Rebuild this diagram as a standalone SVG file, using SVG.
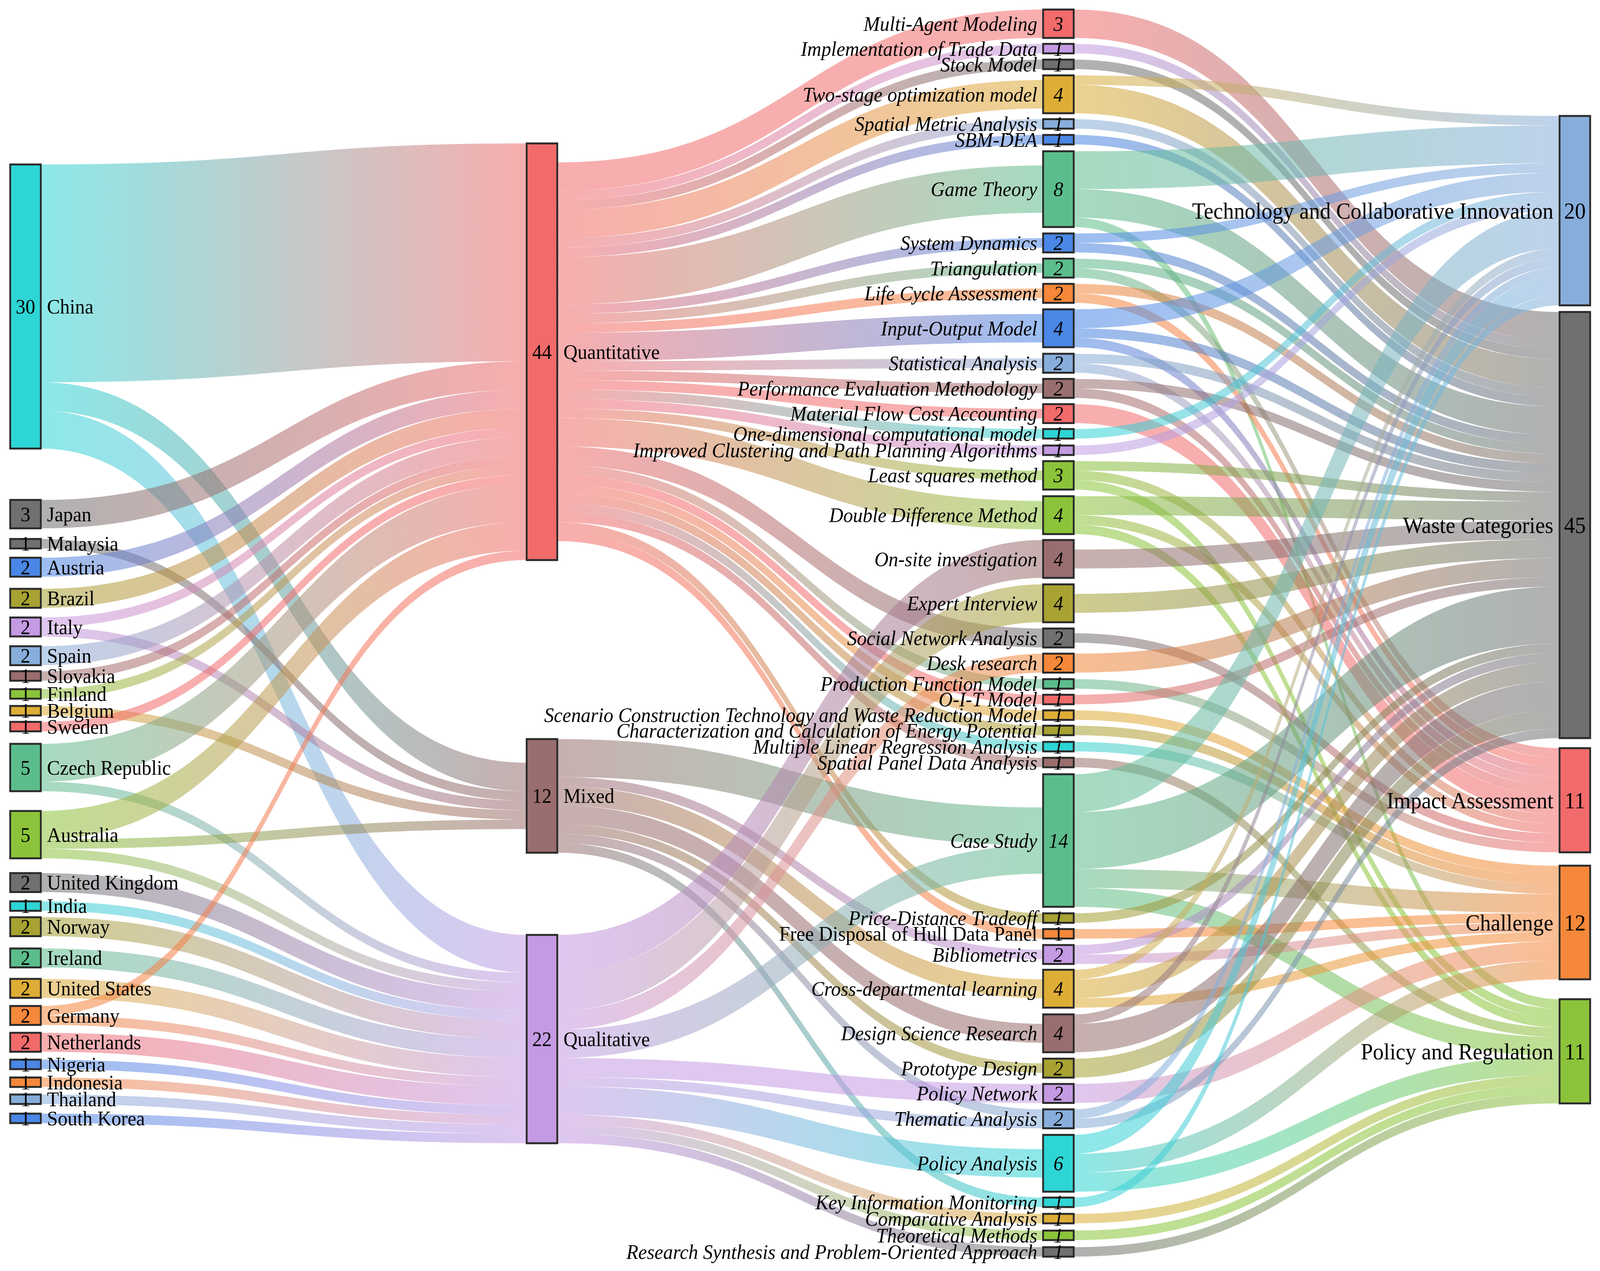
<svg xmlns="http://www.w3.org/2000/svg" width="4393" height="3255" viewBox="0 0 4393 3255" preserveAspectRatio="none" style="width:100vw;height:100vh;display:block">
<defs>
<style>
.lk{fill-opacity:.55}
.n{stroke:#2b2b2b;stroke-width:5}
text{font-family:"Liberation Serif","Times New Roman",serif;font-size:53.5px;fill:#000;dominant-baseline:central}
.i{font-style:italic}
.e{text-anchor:end}
.m{text-anchor:middle}
.b{font-size:59.5px}
.cR{fill:#f26b6b}.cPU{fill:#c49ae3}.cGR{fill:#707070}.cGO{fill:#ddad36}.cLB{fill:#87aedb}.cBL{fill:#4a87e6}
.cGN{fill:#5cbd8c}.cOR{fill:#f5883a}.cMV{fill:#9a6e6e}.cCY{fill:#2ed5d5}.cOL{fill:#a7a232}.cYG{fill:#8bc43a}
</style>
<linearGradient id="CY-R"><stop offset="0" stop-color="#2ed5d5"/><stop offset="1" stop-color="#f26b6b"/></linearGradient>
<linearGradient id="CY-MV"><stop offset="0" stop-color="#2ed5d5"/><stop offset="1" stop-color="#9a6e6e"/></linearGradient>
<linearGradient id="CY-PU"><stop offset="0" stop-color="#2ed5d5"/><stop offset="1" stop-color="#c49ae3"/></linearGradient>
<linearGradient id="GR-R"><stop offset="0" stop-color="#707070"/><stop offset="1" stop-color="#f26b6b"/></linearGradient>
<linearGradient id="GR-MV"><stop offset="0" stop-color="#707070"/><stop offset="1" stop-color="#9a6e6e"/></linearGradient>
<linearGradient id="BL-R"><stop offset="0" stop-color="#4a87e6"/><stop offset="1" stop-color="#f26b6b"/></linearGradient>
<linearGradient id="OL-R"><stop offset="0" stop-color="#a7a232"/><stop offset="1" stop-color="#f26b6b"/></linearGradient>
<linearGradient id="PU-R"><stop offset="0" stop-color="#c49ae3"/><stop offset="1" stop-color="#f26b6b"/></linearGradient>
<linearGradient id="PU-MV"><stop offset="0" stop-color="#c49ae3"/><stop offset="1" stop-color="#9a6e6e"/></linearGradient>
<linearGradient id="LB-R"><stop offset="0" stop-color="#87aedb"/><stop offset="1" stop-color="#f26b6b"/></linearGradient>
<linearGradient id="MV-R"><stop offset="0" stop-color="#9a6e6e"/><stop offset="1" stop-color="#f26b6b"/></linearGradient>
<linearGradient id="YG-R"><stop offset="0" stop-color="#8bc43a"/><stop offset="1" stop-color="#f26b6b"/></linearGradient>
<linearGradient id="GO-MV"><stop offset="0" stop-color="#ddad36"/><stop offset="1" stop-color="#9a6e6e"/></linearGradient>
<linearGradient id="GN-R"><stop offset="0" stop-color="#5cbd8c"/><stop offset="1" stop-color="#f26b6b"/></linearGradient>
<linearGradient id="GN-PU"><stop offset="0" stop-color="#5cbd8c"/><stop offset="1" stop-color="#c49ae3"/></linearGradient>
<linearGradient id="YG-MV"><stop offset="0" stop-color="#8bc43a"/><stop offset="1" stop-color="#9a6e6e"/></linearGradient>
<linearGradient id="YG-PU"><stop offset="0" stop-color="#8bc43a"/><stop offset="1" stop-color="#c49ae3"/></linearGradient>
<linearGradient id="GR-PU"><stop offset="0" stop-color="#707070"/><stop offset="1" stop-color="#c49ae3"/></linearGradient>
<linearGradient id="OL-PU"><stop offset="0" stop-color="#a7a232"/><stop offset="1" stop-color="#c49ae3"/></linearGradient>
<linearGradient id="GO-PU"><stop offset="0" stop-color="#ddad36"/><stop offset="1" stop-color="#c49ae3"/></linearGradient>
<linearGradient id="OR-R"><stop offset="0" stop-color="#f5883a"/><stop offset="1" stop-color="#f26b6b"/></linearGradient>
<linearGradient id="OR-PU"><stop offset="0" stop-color="#f5883a"/><stop offset="1" stop-color="#c49ae3"/></linearGradient>
<linearGradient id="R-PU"><stop offset="0" stop-color="#f26b6b"/><stop offset="1" stop-color="#c49ae3"/></linearGradient>
<linearGradient id="BL-PU"><stop offset="0" stop-color="#4a87e6"/><stop offset="1" stop-color="#c49ae3"/></linearGradient>
<linearGradient id="LB-PU"><stop offset="0" stop-color="#87aedb"/><stop offset="1" stop-color="#c49ae3"/></linearGradient>
<linearGradient id="R-GR"><stop offset="0" stop-color="#f26b6b"/><stop offset="1" stop-color="#707070"/></linearGradient>
<linearGradient id="R-GO"><stop offset="0" stop-color="#f26b6b"/><stop offset="1" stop-color="#ddad36"/></linearGradient>
<linearGradient id="R-LB"><stop offset="0" stop-color="#f26b6b"/><stop offset="1" stop-color="#87aedb"/></linearGradient>
<linearGradient id="R-BL"><stop offset="0" stop-color="#f26b6b"/><stop offset="1" stop-color="#4a87e6"/></linearGradient>
<linearGradient id="R-GN"><stop offset="0" stop-color="#f26b6b"/><stop offset="1" stop-color="#5cbd8c"/></linearGradient>
<linearGradient id="R-OR"><stop offset="0" stop-color="#f26b6b"/><stop offset="1" stop-color="#f5883a"/></linearGradient>
<linearGradient id="R-MV"><stop offset="0" stop-color="#f26b6b"/><stop offset="1" stop-color="#9a6e6e"/></linearGradient>
<linearGradient id="R-CY"><stop offset="0" stop-color="#f26b6b"/><stop offset="1" stop-color="#2ed5d5"/></linearGradient>
<linearGradient id="R-YG"><stop offset="0" stop-color="#f26b6b"/><stop offset="1" stop-color="#8bc43a"/></linearGradient>
<linearGradient id="R-OL"><stop offset="0" stop-color="#f26b6b"/><stop offset="1" stop-color="#a7a232"/></linearGradient>
<linearGradient id="MV-GN"><stop offset="0" stop-color="#9a6e6e"/><stop offset="1" stop-color="#5cbd8c"/></linearGradient>
<linearGradient id="MV-PU"><stop offset="0" stop-color="#9a6e6e"/><stop offset="1" stop-color="#c49ae3"/></linearGradient>
<linearGradient id="MV-GO"><stop offset="0" stop-color="#9a6e6e"/><stop offset="1" stop-color="#ddad36"/></linearGradient>
<linearGradient id="MV-OL"><stop offset="0" stop-color="#9a6e6e"/><stop offset="1" stop-color="#a7a232"/></linearGradient>
<linearGradient id="MV-LB"><stop offset="0" stop-color="#9a6e6e"/><stop offset="1" stop-color="#87aedb"/></linearGradient>
<linearGradient id="MV-CY"><stop offset="0" stop-color="#9a6e6e"/><stop offset="1" stop-color="#2ed5d5"/></linearGradient>
<linearGradient id="PU-OL"><stop offset="0" stop-color="#c49ae3"/><stop offset="1" stop-color="#a7a232"/></linearGradient>
<linearGradient id="PU-OR"><stop offset="0" stop-color="#c49ae3"/><stop offset="1" stop-color="#f5883a"/></linearGradient>
<linearGradient id="PU-GN"><stop offset="0" stop-color="#c49ae3"/><stop offset="1" stop-color="#5cbd8c"/></linearGradient>
<linearGradient id="PU-LB"><stop offset="0" stop-color="#c49ae3"/><stop offset="1" stop-color="#87aedb"/></linearGradient>
<linearGradient id="PU-CY"><stop offset="0" stop-color="#c49ae3"/><stop offset="1" stop-color="#2ed5d5"/></linearGradient>
<linearGradient id="PU-GO"><stop offset="0" stop-color="#c49ae3"/><stop offset="1" stop-color="#ddad36"/></linearGradient>
<linearGradient id="PU-YG"><stop offset="0" stop-color="#c49ae3"/><stop offset="1" stop-color="#8bc43a"/></linearGradient>
<linearGradient id="PU-GR"><stop offset="0" stop-color="#c49ae3"/><stop offset="1" stop-color="#707070"/></linearGradient>
<linearGradient id="GO-LB"><stop offset="0" stop-color="#ddad36"/><stop offset="1" stop-color="#87aedb"/></linearGradient>
<linearGradient id="GO-GR"><stop offset="0" stop-color="#ddad36"/><stop offset="1" stop-color="#707070"/></linearGradient>
<linearGradient id="LB-GR"><stop offset="0" stop-color="#87aedb"/><stop offset="1" stop-color="#707070"/></linearGradient>
<linearGradient id="BL-GR"><stop offset="0" stop-color="#4a87e6"/><stop offset="1" stop-color="#707070"/></linearGradient>
<linearGradient id="GN-LB"><stop offset="0" stop-color="#5cbd8c"/><stop offset="1" stop-color="#87aedb"/></linearGradient>
<linearGradient id="GN-GR"><stop offset="0" stop-color="#5cbd8c"/><stop offset="1" stop-color="#707070"/></linearGradient>
<linearGradient id="GN-YG"><stop offset="0" stop-color="#5cbd8c"/><stop offset="1" stop-color="#8bc43a"/></linearGradient>
<linearGradient id="BL-LB"><stop offset="0" stop-color="#4a87e6"/><stop offset="1" stop-color="#87aedb"/></linearGradient>
<linearGradient id="OR-GR"><stop offset="0" stop-color="#f5883a"/><stop offset="1" stop-color="#707070"/></linearGradient>
<linearGradient id="MV-GR"><stop offset="0" stop-color="#9a6e6e"/><stop offset="1" stop-color="#707070"/></linearGradient>
<linearGradient id="CY-LB"><stop offset="0" stop-color="#2ed5d5"/><stop offset="1" stop-color="#87aedb"/></linearGradient>
<linearGradient id="YG-GR"><stop offset="0" stop-color="#8bc43a"/><stop offset="1" stop-color="#707070"/></linearGradient>
<linearGradient id="OL-GR"><stop offset="0" stop-color="#a7a232"/><stop offset="1" stop-color="#707070"/></linearGradient>
<linearGradient id="GO-OR"><stop offset="0" stop-color="#ddad36"/><stop offset="1" stop-color="#f5883a"/></linearGradient>
<linearGradient id="OL-OR"><stop offset="0" stop-color="#a7a232"/><stop offset="1" stop-color="#f5883a"/></linearGradient>
<linearGradient id="CY-OR"><stop offset="0" stop-color="#2ed5d5"/><stop offset="1" stop-color="#f5883a"/></linearGradient>
<linearGradient id="MV-YG"><stop offset="0" stop-color="#9a6e6e"/><stop offset="1" stop-color="#8bc43a"/></linearGradient>
<linearGradient id="GN-OR"><stop offset="0" stop-color="#5cbd8c"/><stop offset="1" stop-color="#f5883a"/></linearGradient>
<linearGradient id="CY-YG"><stop offset="0" stop-color="#2ed5d5"/><stop offset="1" stop-color="#8bc43a"/></linearGradient>
<linearGradient id="GO-YG"><stop offset="0" stop-color="#ddad36"/><stop offset="1" stop-color="#8bc43a"/></linearGradient>
<linearGradient id="GR-YG"><stop offset="0" stop-color="#707070"/><stop offset="1" stop-color="#8bc43a"/></linearGradient>
</defs>
<rect width="4393" height="3255" fill="#ffffff"/>
<g id="links">
<path class="lk" fill="url(#CY-R)" d="M112 421.2C779 421.2 779 367.3 1446 367.3L1446 925.1C779 925.1 779 979 112 979Z"/>
<path class="lk" fill="url(#CY-MV)" d="M112 979C779 979 779 1953.4 1446 1953.4L1446 2026.2C779 2026.2 779 1051.7 112 1051.7Z"/>
<path class="lk" fill="url(#CY-PU)" d="M112 1051.7C779 1051.7 779 2394.3 1446 2394.3L1446 2491.3C779 2491.3 779 1148.7 112 1148.7Z"/>
<path class="lk" fill="url(#GR-R)" d="M112 1280.3C779 1280.3 779 925.1 1446 925.1L1446 997.8C779 997.8 779 1353.1 112 1353.1Z"/>
<path class="lk" fill="url(#GR-MV)" d="M112 1380.3C779 1380.3 779 2026.2 1446 2026.2L1446 2050.4C779 2050.4 779 1404.6 112 1404.6Z"/>
<path class="lk" fill="url(#BL-R)" d="M112 1428.3C779 1428.3 779 997.8 1446 997.8L1446 1046.3C779 1046.3 779 1476.8 112 1476.8Z"/>
<path class="lk" fill="url(#OL-R)" d="M112 1508C779 1508 779 1046.3 1446 1046.3L1446 1094.8C779 1094.8 779 1556.5 112 1556.5Z"/>
<path class="lk" fill="url(#PU-R)" d="M112 1581.4C779 1581.4 779 1094.8 1446 1094.8L1446 1119.1C779 1119.1 779 1605.7 112 1605.7Z"/>
<path class="lk" fill="url(#PU-MV)" d="M112 1605.7C779 1605.7 779 2050.4 1446 2050.4L1446 2074.7C779 2074.7 779 1629.9 112 1629.9Z"/>
<path class="lk" fill="url(#LB-R)" d="M112 1655C779 1655 779 1119.1 1446 1119.1L1446 1167.6C779 1167.6 779 1703.5 112 1703.5Z"/>
<path class="lk" fill="url(#MV-R)" d="M112 1719C779 1719 779 1167.6 1446 1167.6L1446 1191.8C779 1191.8 779 1743.3 112 1743.3Z"/>
<path class="lk" fill="url(#YG-R)" d="M112 1765C779 1765 779 1191.8 1446 1191.8L1446 1216.1C779 1216.1 779 1789.3 112 1789.3Z"/>
<path class="lk" fill="url(#GO-MV)" d="M112 1808C779 1808 779 2074.7 1446 2074.7L1446 2098.9C779 2098.9 779 1832.3 112 1832.3Z"/>
<path class="lk cR" d="M112 1848.7C779 1848.7 779 1216.1 1446 1216.1L1446 1240.3C779 1240.3 779 1873 112 1873Z"/>
<path class="lk" fill="url(#GN-R)" d="M112 1905C779 1905 779 1240.3 1446 1240.3L1446 1337.3C779 1337.3 779 2002 112 2002Z"/>
<path class="lk" fill="url(#GN-PU)" d="M112 2002C779 2002 779 2491.3 1446 2491.3L1446 2515.6C779 2515.6 779 2026.3 112 2026.3Z"/>
<path class="lk" fill="url(#YG-R)" d="M112 2076.9C779 2076.9 779 1337.3 1446 1337.3L1446 1410.1C779 1410.1 779 2149.7 112 2149.7Z"/>
<path class="lk" fill="url(#YG-MV)" d="M112 2149.7C779 2149.7 779 2098.9 1446 2098.9L1446 2123.2C779 2123.2 779 2173.9 112 2173.9Z"/>
<path class="lk" fill="url(#YG-PU)" d="M112 2173.9C779 2173.9 779 2515.6 1446 2515.6L1446 2539.8C779 2539.8 779 2198.2 112 2198.2Z"/>
<path class="lk" fill="url(#GR-PU)" d="M112 2236C779 2236 779 2539.8 1446 2539.8L1446 2588.3C779 2588.3 779 2284.5 112 2284.5Z"/>
<path class="lk" fill="url(#CY-PU)" d="M112 2308.3C779 2308.3 779 2588.3 1446 2588.3L1446 2612.6C779 2612.6 779 2332.6 112 2332.6Z"/>
<path class="lk" fill="url(#OL-PU)" d="M112 2349C779 2349 779 2612.6 1446 2612.6L1446 2661.1C779 2661.1 779 2397.5 112 2397.5Z"/>
<path class="lk" fill="url(#GN-PU)" d="M112 2429C779 2429 779 2661.1 1446 2661.1L1446 2709.6C779 2709.6 779 2477.5 112 2477.5Z"/>
<path class="lk" fill="url(#GO-PU)" d="M112 2506.9C779 2506.9 779 2709.6 1446 2709.6L1446 2758.1C779 2758.1 779 2555.4 112 2555.4Z"/>
<path class="lk" fill="url(#OR-R)" d="M112 2576.3C779 2576.3 779 1410.1 1446 1410.1L1446 1434.3C779 1434.3 779 2600.6 112 2600.6Z"/>
<path class="lk" fill="url(#OR-PU)" d="M112 2600.6C779 2600.6 779 2758.1 1446 2758.1L1446 2782.3C779 2782.3 779 2624.8 112 2624.8Z"/>
<path class="lk" fill="url(#R-PU)" d="M112 2645C779 2645 779 2782.3 1446 2782.3L1446 2830.8C779 2830.8 779 2693.5 112 2693.5Z"/>
<path class="lk" fill="url(#BL-PU)" d="M112 2713.8C779 2713.8 779 2830.8 1446 2830.8L1446 2855.1C779 2855.1 779 2738.1 112 2738.1Z"/>
<path class="lk" fill="url(#OR-PU)" d="M112 2759.4C779 2759.4 779 2855.1 1446 2855.1L1446 2879.3C779 2879.3 779 2783.7 112 2783.7Z"/>
<path class="lk" fill="url(#LB-PU)" d="M112 2803C779 2803 779 2879.3 1446 2879.3L1446 2903.6C779 2903.6 779 2827.3 112 2827.3Z"/>
<path class="lk" fill="url(#BL-PU)" d="M112 2852C779 2852 779 2903.6 1446 2903.6L1446 2927.8C779 2927.8 779 2876.3 112 2876.3Z"/>
<path class="lk cR" d="M1530 415.8C2197 415.8 2197 24.4 2864 24.4L2864 97.2C2197 97.2 2197 488.6 1530 488.6Z"/>
<path class="lk" fill="url(#R-PU)" d="M1530 488.6C2197 488.6 2197 112.4 2864 112.4L2864 136.7C2197 136.7 2197 512.8 1530 512.8Z"/>
<path class="lk" fill="url(#R-GR)" d="M1530 512.8C2197 512.8 2197 152.7 2864 152.7L2864 177C2197 177 2197 537.1 1530 537.1Z"/>
<path class="lk" fill="url(#R-GO)" d="M1530 537.1C2197 537.1 2197 205.1 2864 205.1L2864 277.9C2197 277.9 2197 609.8 1530 609.8Z"/>
<path class="lk" fill="url(#R-LB)" d="M1530 609.8C2197 609.8 2197 305.2 2864 305.2L2864 329.5C2197 329.5 2197 634.1 1530 634.1Z"/>
<path class="lk" fill="url(#R-BL)" d="M1530 634.1C2197 634.1 2197 345.6 2864 345.6L2864 369.9C2197 369.9 2197 658.3 1530 658.3Z"/>
<path class="lk" fill="url(#R-GN)" d="M1530 658.3C2197 658.3 2197 423.8 2864 423.8L2864 545C2197 545 2197 779.6 1530 779.6Z"/>
<path class="lk" fill="url(#R-BL)" d="M1530 779.6C2197 779.6 2197 610 2864 610L2864 634.3C2197 634.3 2197 803.8 1530 803.8Z"/>
<path class="lk" fill="url(#R-GN)" d="M1530 803.8C2197 803.8 2197 674.5 2864 674.5L2864 698.8C2197 698.8 2197 828.1 1530 828.1Z"/>
<path class="lk" fill="url(#R-OR)" d="M1530 828.1C2197 828.1 2197 739.1 2864 739.1L2864 763.4C2197 763.4 2197 852.3 1530 852.3Z"/>
<path class="lk" fill="url(#R-BL)" d="M1530 852.3C2197 852.3 2197 804.3 2864 804.3L2864 877.1C2197 877.1 2197 925.1 1530 925.1Z"/>
<path class="lk" fill="url(#R-LB)" d="M1530 925.1C2197 925.1 2197 918.1 2864 918.1L2864 942.4C2197 942.4 2197 949.3 1530 949.3Z"/>
<path class="lk" fill="url(#R-MV)" d="M1530 949.3C2197 949.3 2197 982.5 2864 982.5L2864 1006.8C2197 1006.8 2197 973.6 1530 973.6Z"/>
<path class="lk cR" d="M1530 973.6C2197 973.6 2197 1047.1 2864 1047.1L2864 1071.4C2197 1071.4 2197 997.8 1530 997.8Z"/>
<path class="lk" fill="url(#R-CY)" d="M1530 997.8C2197 997.8 2197 1098.8 2864 1098.8L2864 1123.1C2197 1123.1 2197 1022.1 1530 1022.1Z"/>
<path class="lk" fill="url(#R-PU)" d="M1530 1022.1C2197 1022.1 2197 1141 2864 1141L2864 1165.3C2197 1165.3 2197 1046.3 1530 1046.3Z"/>
<path class="lk" fill="url(#R-YG)" d="M1530 1046.3C2197 1046.3 2197 1205.3 2864 1205.3L2864 1229.5C2197 1229.5 2197 1070.6 1530 1070.6Z"/>
<path class="lk" fill="url(#R-YG)" d="M1530 1070.6C2197 1070.6 2197 1282.9 2864 1282.9L2864 1355.7C2197 1355.7 2197 1143.3 1530 1143.3Z"/>
<path class="lk" fill="url(#R-GR)" d="M1530 1143.3C2197 1143.3 2197 1609.6 2864 1609.6L2864 1658.1C2197 1658.1 2197 1191.8 1530 1191.8Z"/>
<path class="lk" fill="url(#R-GN)" d="M1530 1191.8C2197 1191.8 2197 1739.3 2864 1739.3L2864 1763.6C2197 1763.6 2197 1216.1 1530 1216.1Z"/>
<path class="lk cR" d="M1530 1216.1C2197 1216.1 2197 1779.3 2864 1779.3L2864 1803.6C2197 1803.6 2197 1240.3 1530 1240.3Z"/>
<path class="lk" fill="url(#R-GO)" d="M1530 1240.3C2197 1240.3 2197 1819.3 2864 1819.3L2864 1843.6C2197 1843.6 2197 1264.6 1530 1264.6Z"/>
<path class="lk" fill="url(#R-OL)" d="M1530 1264.6C2197 1264.6 2197 1858.5 2864 1858.5L2864 1882.8C2197 1882.8 2197 1288.8 1530 1288.8Z"/>
<path class="lk" fill="url(#R-CY)" d="M1530 1288.8C2197 1288.8 2197 1900 2864 1900L2864 1924.3C2197 1924.3 2197 1313.1 1530 1313.1Z"/>
<path class="lk" fill="url(#R-MV)" d="M1530 1313.1C2197 1313.1 2197 1940.7 2864 1940.7L2864 1965C2197 1965 2197 1337.3 1530 1337.3Z"/>
<path class="lk" fill="url(#R-OL)" d="M1530 1337.3C2197 1337.3 2197 2339 2864 2339L2864 2363.3C2197 2363.3 2197 1361.6 1530 1361.6Z"/>
<path class="lk" fill="url(#R-OR)" d="M1530 1361.6C2197 1361.6 2197 2379.3 2864 2379.3L2864 2403.6C2197 2403.6 2197 1385.8 1530 1385.8Z"/>
<path class="lk" fill="url(#MV-GN)" d="M1530 1892.8C2197 1892.8 2197 2067.7 2864 2067.7L2864 2164.7C2197 2164.7 2197 1989.8 1530 1989.8Z"/>
<path class="lk" fill="url(#MV-PU)" d="M1530 1989.8C2197 1989.8 2197 2432.3 2864 2432.3L2864 2456.6C2197 2456.6 2197 2014.1 1530 2014.1Z"/>
<path class="lk" fill="url(#MV-GO)" d="M1530 2014.1C2197 2014.1 2197 2507.9 2864 2507.9L2864 2556.4C2197 2556.4 2197 2062.6 1530 2062.6Z"/>
<path class="lk cMV" d="M1530 2062.6C2197 2062.6 2197 2622.1 2864 2622.1L2864 2670.6C2197 2670.6 2197 2111.1 1530 2111.1Z"/>
<path class="lk" fill="url(#MV-OL)" d="M1530 2111.1C2197 2111.1 2197 2723.3 2864 2723.3L2864 2747.6C2197 2747.6 2197 2135.3 1530 2135.3Z"/>
<path class="lk" fill="url(#MV-LB)" d="M1530 2135.3C2197 2135.3 2197 2841 2864 2841L2864 2865.3C2197 2865.3 2197 2159.6 1530 2159.6Z"/>
<path class="lk" fill="url(#MV-CY)" d="M1530 2159.6C2197 2159.6 2197 3067 2864 3067L2864 3091.3C2197 3091.3 2197 2183.8 1530 2183.8Z"/>
<path class="lk" fill="url(#PU-MV)" d="M1530 2394.3C2197 2394.3 2197 1383 2864 1383L2864 1480C2197 1480 2197 2491.3 1530 2491.3Z"/>
<path class="lk" fill="url(#PU-OL)" d="M1530 2491.3C2197 2491.3 2197 1496.6 2864 1496.6L2864 1593.6C2197 1593.6 2197 2588.3 1530 2588.3Z"/>
<path class="lk" fill="url(#PU-OR)" d="M1530 2588.3C2197 2588.3 2197 1674 2864 1674L2864 1722.5C2197 1722.5 2197 2636.8 1530 2636.8Z"/>
<path class="lk" fill="url(#PU-GN)" d="M1530 2636.8C2197 2636.8 2197 2164.7 2864 2164.7L2864 2237.4C2197 2237.4 2197 2709.6 1530 2709.6Z"/>
<path class="lk cPU" d="M1530 2709.6C2197 2709.6 2197 2776 2864 2776L2864 2824.5C2197 2824.5 2197 2758.1 1530 2758.1Z"/>
<path class="lk" fill="url(#PU-LB)" d="M1530 2758.1C2197 2758.1 2197 2865.3 2864 2865.3L2864 2889.5C2197 2889.5 2197 2782.3 1530 2782.3Z"/>
<path class="lk" fill="url(#PU-CY)" d="M1530 2782.3C2197 2782.3 2197 2942.8 2864 2942.8L2864 3015.5C2197 3015.5 2197 2855.1 1530 2855.1Z"/>
<path class="lk" fill="url(#PU-GO)" d="M1530 2855.1C2197 2855.1 2197 3108.7 2864 3108.7L2864 3133C2197 3133 2197 2879.3 1530 2879.3Z"/>
<path class="lk" fill="url(#PU-YG)" d="M1530 2879.3C2197 2879.3 2197 3151.6 2864 3151.6L2864 3175.9C2197 3175.9 2197 2903.6 1530 2903.6Z"/>
<path class="lk" fill="url(#PU-GR)" d="M1530 2903.6C2197 2903.6 2197 3194 2864 3194L2864 3218.3C2197 3218.3 2197 2927.8 1530 2927.8Z"/>
<path class="lk" fill="url(#R-GR)" d="M2948 24.4C3615 24.4 3615 799 4282 799L4282 871.8C3615 871.8 3615 97.2 2948 97.2Z"/>
<path class="lk" fill="url(#PU-GR)" d="M2948 112.4C3615 112.4 3615 871.8 4282 871.8L4282 896C3615 896 3615 136.7 2948 136.7Z"/>
<path class="lk cGR" d="M2948 152.7C3615 152.7 3615 896 4282 896L4282 920.3C3615 920.3 3615 177 2948 177Z"/>
<path class="lk" fill="url(#GO-LB)" d="M2948 193C3615 193 3615 297 4282 297L4282 321.3C3615 321.3 3615 217.3 2948 217.3Z"/>
<path class="lk" fill="url(#GO-GR)" d="M2948 217.3C3615 217.3 3615 920.3 4282 920.3L4282 993C3615 993 3615 290 2948 290Z"/>
<path class="lk" fill="url(#LB-GR)" d="M2948 305.2C3615 305.2 3615 993 4282 993L4282 1017.3C3615 1017.3 3615 329.5 2948 329.5Z"/>
<path class="lk" fill="url(#BL-GR)" d="M2948 345.6C3615 345.6 3615 1017.3 4282 1017.3L4282 1041.5C3615 1041.5 3615 369.9 2948 369.9Z"/>
<path class="lk" fill="url(#GN-LB)" d="M2948 387.4C3615 387.4 3615 321.3 4282 321.3L4282 418.3C3615 418.3 3615 484.4 2948 484.4Z"/>
<path class="lk" fill="url(#GN-GR)" d="M2948 484.4C3615 484.4 3615 1041.5 4282 1041.5L4282 1114.3C3615 1114.3 3615 557.2 2948 557.2Z"/>
<path class="lk" fill="url(#GN-YG)" d="M2948 557.2C3615 557.2 3615 2559 4282 2559L4282 2583.3C3615 2583.3 3615 581.4 2948 581.4Z"/>
<path class="lk" fill="url(#BL-LB)" d="M2948 597.9C3615 597.9 3615 418.3 4282 418.3L4282 442.5C3615 442.5 3615 622.2 2948 622.2Z"/>
<path class="lk" fill="url(#BL-GR)" d="M2948 622.2C3615 622.2 3615 1114.3 4282 1114.3L4282 1138.5C3615 1138.5 3615 646.4 2948 646.4Z"/>
<path class="lk" fill="url(#GN-GR)" d="M2948 662.4C3615 662.4 3615 1138.5 4282 1138.5L4282 1162.8C3615 1162.8 3615 686.7 2948 686.7Z"/>
<path class="lk" fill="url(#GN-R)" d="M2948 686.7C3615 686.7 3615 1916 4282 1916L4282 1940.3C3615 1940.3 3615 710.9 2948 710.9Z"/>
<path class="lk" fill="url(#OR-GR)" d="M2948 727C3615 727 3615 1162.8 4282 1162.8L4282 1187C3615 1187 3615 751.3 2948 751.3Z"/>
<path class="lk" fill="url(#OR-R)" d="M2948 751.3C3615 751.3 3615 1940.3 4282 1940.3L4282 1964.5C3615 1964.5 3615 775.5 2948 775.5Z"/>
<path class="lk" fill="url(#BL-LB)" d="M2948 792.2C3615 792.2 3615 442.5 4282 442.5L4282 491C3615 491 3615 840.7 2948 840.7Z"/>
<path class="lk" fill="url(#BL-GR)" d="M2948 840.7C3615 840.7 3615 1187 4282 1187L4282 1211.3C3615 1211.3 3615 865 2948 865Z"/>
<path class="lk" fill="url(#BL-R)" d="M2948 865C3615 865 3615 1964.5 4282 1964.5L4282 1988.8C3615 1988.8 3615 889.2 2948 889.2Z"/>
<path class="lk" fill="url(#LB-GR)" d="M2948 906C3615 906 3615 1211.3 4282 1211.3L4282 1235.5C3615 1235.5 3615 930.3 2948 930.3Z"/>
<path class="lk" fill="url(#LB-R)" d="M2948 930.3C3615 930.3 3615 1988.8 4282 1988.8L4282 2013C3615 2013 3615 954.5 2948 954.5Z"/>
<path class="lk" fill="url(#MV-GR)" d="M2948 970.4C3615 970.4 3615 1235.5 4282 1235.5L4282 1259.8C3615 1259.8 3615 994.7 2948 994.7Z"/>
<path class="lk" fill="url(#MV-R)" d="M2948 994.7C3615 994.7 3615 2013 4282 2013L4282 2037.3C3615 2037.3 3615 1018.9 2948 1018.9Z"/>
<path class="lk cR" d="M2948 1035C3615 1035 3615 2037.3 4282 2037.3L4282 2085.8C3615 2085.8 3615 1083.5 2948 1083.5Z"/>
<path class="lk" fill="url(#CY-LB)" d="M2948 1098.8C3615 1098.8 3615 491 4282 491L4282 515.3C3615 515.3 3615 1123.1 2948 1123.1Z"/>
<path class="lk" fill="url(#PU-LB)" d="M2948 1141C3615 1141 3615 515.3 4282 515.3L4282 539.5C3615 539.5 3615 1165.3 2948 1165.3Z"/>
<path class="lk" fill="url(#YG-GR)" d="M2948 1181C3615 1181 3615 1259.8 4282 1259.8L4282 1284C3615 1284 3615 1205.3 2948 1205.3Z"/>
<path class="lk" fill="url(#YG-R)" d="M2948 1205.3C3615 1205.3 3615 2085.8 4282 2085.8L4282 2110C3615 2110 3615 1229.5 2948 1229.5Z"/>
<path class="lk cYG" d="M2948 1229.5C3615 1229.5 3615 2583.3 4282 2583.3L4282 2607.5C3615 2607.5 3615 1253.8 2948 1253.8Z"/>
<path class="lk" fill="url(#YG-GR)" d="M2948 1270.8C3615 1270.8 3615 1284 4282 1284L4282 1332.5C3615 1332.5 3615 1319.3 2948 1319.3Z"/>
<path class="lk" fill="url(#YG-R)" d="M2948 1319.3C3615 1319.3 3615 2110 4282 2110L4282 2134.3C3615 2134.3 3615 1343.6 2948 1343.6Z"/>
<path class="lk cYG" d="M2948 1343.6C3615 1343.6 3615 2607.5 4282 2607.5L4282 2631.8C3615 2631.8 3615 1367.8 2948 1367.8Z"/>
<path class="lk" fill="url(#MV-GR)" d="M2948 1407.3C3615 1407.3 3615 1332.5 4282 1332.5L4282 1381C3615 1381 3615 1455.8 2948 1455.8Z"/>
<path class="lk" fill="url(#OL-GR)" d="M2948 1520.9C3615 1520.9 3615 1381 4282 1381L4282 1429.5C3615 1429.5 3615 1569.4 2948 1569.4Z"/>
<path class="lk" fill="url(#GR-R)" d="M2948 1621.7C3615 1621.7 3615 2134.3 4282 2134.3L4282 2158.5C3615 2158.5 3615 1646 2948 1646Z"/>
<path class="lk" fill="url(#OR-GR)" d="M2948 1674C3615 1674 3615 1429.5 4282 1429.5L4282 1478C3615 1478 3615 1722.5 2948 1722.5Z"/>
<path class="lk" fill="url(#GN-R)" d="M2948 1739.3C3615 1739.3 3615 2158.5 4282 2158.5L4282 2182.8C3615 2182.8 3615 1763.6 2948 1763.6Z"/>
<path class="lk" fill="url(#R-GR)" d="M2948 1779.3C3615 1779.3 3615 1478 4282 1478L4282 1502.3C3615 1502.3 3615 1803.6 2948 1803.6Z"/>
<path class="lk" fill="url(#GO-OR)" d="M2948 1819.3C3615 1819.3 3615 2217 4282 2217L4282 2241.3C3615 2241.3 3615 1843.6 2948 1843.6Z"/>
<path class="lk" fill="url(#OL-OR)" d="M2948 1858.5C3615 1858.5 3615 2241.3 4282 2241.3L4282 2265.5C3615 2265.5 3615 1882.8 2948 1882.8Z"/>
<path class="lk" fill="url(#CY-OR)" d="M2948 1900C3615 1900 3615 2265.5 4282 2265.5L4282 2289.8C3615 2289.8 3615 1924.3 2948 1924.3Z"/>
<path class="lk" fill="url(#MV-YG)" d="M2948 1940.7C3615 1940.7 3615 2631.8 4282 2631.8L4282 2656C3615 2656 3615 1965 2948 1965Z"/>
<path class="lk" fill="url(#GN-LB)" d="M2948 1982.8C3615 1982.8 3615 539.5 4282 539.5L4282 636.5C3615 636.5 3615 2079.8 2948 2079.8Z"/>
<path class="lk" fill="url(#GN-GR)" d="M2948 2079.8C3615 2079.8 3615 1502.3 4282 1502.3L4282 1647.8C3615 1647.8 3615 2225.3 2948 2225.3Z"/>
<path class="lk" fill="url(#GN-OR)" d="M2948 2225.3C3615 2225.3 3615 2289.8 4282 2289.8L4282 2338.3C3615 2338.3 3615 2273.8 2948 2273.8Z"/>
<path class="lk" fill="url(#GN-YG)" d="M2948 2273.8C3615 2273.8 3615 2656 4282 2656L4282 2704.5C3615 2704.5 3615 2322.3 2948 2322.3Z"/>
<path class="lk" fill="url(#OL-GR)" d="M2948 2339C3615 2339 3615 1647.8 4282 1647.8L4282 1672C3615 1672 3615 2363.3 2948 2363.3Z"/>
<path class="lk cOR" d="M2948 2379.3C3615 2379.3 3615 2338.3 4282 2338.3L4282 2362.5C3615 2362.5 3615 2403.6 2948 2403.6Z"/>
<path class="lk" fill="url(#PU-GR)" d="M2948 2420.2C3615 2420.2 3615 1672 4282 1672L4282 1696.3C3615 1696.3 3615 2444.5 2948 2444.5Z"/>
<path class="lk" fill="url(#PU-OR)" d="M2948 2444.5C3615 2444.5 3615 2362.5 4282 2362.5L4282 2386.8C3615 2386.8 3615 2468.7 2948 2468.7Z"/>
<path class="lk" fill="url(#GO-LB)" d="M2948 2483.6C3615 2483.6 3615 636.5 4282 636.5L4282 660.8C3615 660.8 3615 2507.9 2948 2507.9Z"/>
<path class="lk" fill="url(#GO-GR)" d="M2948 2507.9C3615 2507.9 3615 1696.3 4282 1696.3L4282 1744.8C3615 1744.8 3615 2556.4 2948 2556.4Z"/>
<path class="lk" fill="url(#GO-OR)" d="M2948 2556.4C3615 2556.4 3615 2386.8 4282 2386.8L4282 2411C3615 2411 3615 2580.6 2948 2580.6Z"/>
<path class="lk" fill="url(#MV-LB)" d="M2948 2597.8C3615 2597.8 3615 660.8 4282 660.8L4282 685C3615 685 3615 2622.1 2948 2622.1Z"/>
<path class="lk" fill="url(#MV-GR)" d="M2948 2622.1C3615 2622.1 3615 1744.8 4282 1744.8L4282 1817.5C3615 1817.5 3615 2694.8 2948 2694.8Z"/>
<path class="lk" fill="url(#OL-GR)" d="M2948 2711.2C3615 2711.2 3615 1817.5 4282 1817.5L4282 1866C3615 1866 3615 2759.7 2948 2759.7Z"/>
<path class="lk" fill="url(#PU-OR)" d="M2948 2776C3615 2776 3615 2411 4282 2411L4282 2459.5C3615 2459.5 3615 2824.5 2948 2824.5Z"/>
<path class="lk cLB" d="M2948 2841C3615 2841 3615 685 4282 685L4282 709.3C3615 709.3 3615 2865.3 2948 2865.3Z"/>
<path class="lk" fill="url(#LB-GR)" d="M2948 2865.3C3615 2865.3 3615 1866 4282 1866L4282 1890.3C3615 1890.3 3615 2889.5 2948 2889.5Z"/>
<path class="lk" fill="url(#CY-LB)" d="M2948 2906.4C3615 2906.4 3615 709.3 4282 709.3L4282 757.8C3615 757.8 3615 2954.9 2948 2954.9Z"/>
<path class="lk" fill="url(#CY-OR)" d="M2948 2954.9C3615 2954.9 3615 2459.5 4282 2459.5L4282 2508C3615 2508 3615 3003.4 2948 3003.4Z"/>
<path class="lk" fill="url(#CY-YG)" d="M2948 3003.4C3615 3003.4 3615 2704.5 4282 2704.5L4282 2753C3615 2753 3615 3051.9 2948 3051.9Z"/>
<path class="lk" fill="url(#CY-LB)" d="M2948 3067C3615 3067 3615 757.8 4282 757.8L4282 782C3615 782 3615 3091.3 2948 3091.3Z"/>
<path class="lk" fill="url(#GO-YG)" d="M2948 3108.7C3615 3108.7 3615 2753 4282 2753L4282 2777.3C3615 2777.3 3615 3133 2948 3133Z"/>
<path class="lk cYG" d="M2948 3151.6C3615 3151.6 3615 2777.3 4282 2777.3L4282 2801.5C3615 2801.5 3615 3175.9 2948 3175.9Z"/>
<path class="lk" fill="url(#GR-YG)" d="M2948 3194C3615 3194 3615 2801.5 4282 2801.5L4282 2825.8C3615 2825.8 3615 3218.3 2948 3218.3Z"/>
</g>
<g id="n-china"><rect class="n cCY" x="28" y="421.2" width="84" height="727.5"/><text class="m" x="70" y="785">30</text><text x="129" y="785">China</text></g>
<g id="n-japan"><rect class="n cGR" x="28" y="1280.3" width="84" height="72.75"/><text class="m" x="70" y="1316.7">3</text><text x="129" y="1316.7">Japan</text></g>
<g id="n-malaysia"><rect class="n cGR" x="28" y="1380.3" width="84" height="24.25"/><text class="m" x="70" y="1392.4">1</text><text x="129" y="1392.4">Malaysia</text></g>
<g id="n-austria"><rect class="n cBL" x="28" y="1428.3" width="84" height="48.5"/><text class="m" x="70" y="1452.6">2</text><text x="129" y="1452.6">Austria</text></g>
<g id="n-brazil"><rect class="n cOL" x="28" y="1508" width="84" height="48.5"/><text class="m" x="70" y="1532.3">2</text><text x="129" y="1532.3">Brazil</text></g>
<g id="n-italy"><rect class="n cPU" x="28" y="1581.4" width="84" height="48.5"/><text class="m" x="70" y="1605.7">2</text><text x="129" y="1605.7">Italy</text></g>
<g id="n-spain"><rect class="n cLB" x="28" y="1655" width="84" height="48.5"/><text class="m" x="70" y="1679.3">2</text><text x="129" y="1679.3">Spain</text></g>
<g id="n-slovakia"><rect class="n cMV" x="28" y="1719" width="84" height="24.25"/><text class="m" x="70" y="1731.1">1</text><text x="129" y="1731.1">Slovakia</text></g>
<g id="n-finland"><rect class="n cYG" x="28" y="1765" width="84" height="24.25"/><text class="m" x="70" y="1777.1">1</text><text x="129" y="1777.1">Finland</text></g>
<g id="n-belgium"><rect class="n cGO" x="28" y="1808" width="84" height="24.25"/><text class="m" x="70" y="1820.1">1</text><text x="129" y="1820.1">Belgium</text></g>
<g id="n-sweden"><rect class="n cR" x="28" y="1848.7" width="84" height="24.25"/><text class="m" x="70" y="1860.8">1</text><text x="129" y="1860.8">Sweden</text></g>
<g id="n-czech"><rect class="n cGN" x="28" y="1905" width="84" height="121.25"/><text class="m" x="70" y="1965.6">5</text><text x="129" y="1965.6">Czech Republic</text></g>
<g id="n-australia"><rect class="n cYG" x="28" y="2076.9" width="84" height="121.25"/><text class="m" x="70" y="2137.5">5</text><text x="129" y="2137.5">Australia</text></g>
<g id="n-uk"><rect class="n cGR" x="28" y="2236" width="84" height="48.5"/><text class="m" x="70" y="2260.3">2</text><text x="129" y="2260.3">United Kingdom</text></g>
<g id="n-india"><rect class="n cCY" x="28" y="2308.3" width="84" height="24.25"/><text class="m" x="70" y="2320.4">1</text><text x="129" y="2320.4">India</text></g>
<g id="n-norway"><rect class="n cOL" x="28" y="2349" width="84" height="48.5"/><text class="m" x="70" y="2373.3">2</text><text x="129" y="2373.3">Norway</text></g>
<g id="n-ireland"><rect class="n cGN" x="28" y="2429" width="84" height="48.5"/><text class="m" x="70" y="2453.3">2</text><text x="129" y="2453.3">Ireland</text></g>
<g id="n-us"><rect class="n cGO" x="28" y="2506.9" width="84" height="48.5"/><text class="m" x="70" y="2531.2">2</text><text x="129" y="2531.2">United States</text></g>
<g id="n-germany"><rect class="n cOR" x="28" y="2576.3" width="84" height="48.5"/><text class="m" x="70" y="2600.6">2</text><text x="129" y="2600.6">Germany</text></g>
<g id="n-netherlands"><rect class="n cR" x="28" y="2645" width="84" height="48.5"/><text class="m" x="70" y="2669.3">2</text><text x="129" y="2669.3">Netherlands</text></g>
<g id="n-nigeria"><rect class="n cBL" x="28" y="2713.8" width="84" height="24.25"/><text class="m" x="70" y="2725.9">1</text><text x="129" y="2725.9">Nigeria</text></g>
<g id="n-indonesia"><rect class="n cOR" x="28" y="2759.4" width="84" height="24.25"/><text class="m" x="70" y="2771.5">1</text><text x="129" y="2771.5">Indonesia</text></g>
<g id="n-thailand"><rect class="n cLB" x="28" y="2803" width="84" height="24.25"/><text class="m" x="70" y="2815.1">1</text><text x="129" y="2815.1">Thailand</text></g>
<g id="n-southkorea"><rect class="n cBL" x="28" y="2852" width="84" height="24.25"/><text class="m" x="70" y="2864.1">1</text><text x="129" y="2864.1">South Korea</text></g>
<g id="n-quantitative"><rect class="n cR" x="1446" y="367.3" width="84" height="1067"/><text class="m" x="1488" y="900.8">44</text><text x="1547" y="900.8">Quantitative</text></g>
<g id="n-mixed"><rect class="n cMV" x="1446" y="1892.8" width="84" height="291"/><text class="m" x="1488" y="2038.3">12</text><text x="1547" y="2038.3">Mixed</text></g>
<g id="n-qualitative"><rect class="n cPU" x="1446" y="2394.3" width="84" height="533.5"/><text class="m" x="1488" y="2661.1">22</text><text x="1547" y="2661.1">Qualitative</text></g>
<g id="n-multiagent"><rect class="n cR" x="2864" y="24.4" width="84" height="72.75"/><text class="m i" x="2906" y="60.8">3</text><text class="e i" x="2848" y="60.8">Multi-Agent Modeling</text></g>
<g id="n-tradedata"><rect class="n cPU" x="2864" y="112.4" width="84" height="24.25"/><text class="m i" x="2906" y="124.5">1</text><text class="e i" x="2848" y="124.5">Implementation of Trade Data</text></g>
<g id="n-stock"><rect class="n cGR" x="2864" y="152.7" width="84" height="24.25"/><text class="m i" x="2906" y="164.8">1</text><text class="e i" x="2848" y="164.8">Stock Model</text></g>
<g id="n-twostage"><rect class="n cGO" x="2864" y="193" width="84" height="97"/><text class="m i" x="2906" y="241.5">4</text><text class="e i" x="2848" y="241.5">Two-stage optimization model</text></g>
<g id="n-spatialmetric"><rect class="n cLB" x="2864" y="305.2" width="84" height="24.25"/><text class="m i" x="2906" y="317.3">1</text><text class="e i" x="2848" y="317.3">Spatial Metric Analysis</text></g>
<g id="n-sbmdea"><rect class="n cBL" x="2864" y="345.6" width="84" height="24.25"/><text class="m i" x="2906" y="357.7">1</text><text class="e i" x="2848" y="357.7">SBM-DEA</text></g>
<g id="n-game"><rect class="n cGN" x="2864" y="387.4" width="84" height="194"/><text class="m i" x="2906" y="484.4">8</text><text class="e i" x="2848" y="484.4">Game Theory</text></g>
<g id="n-sysdyn"><rect class="n cBL" x="2864" y="597.9" width="84" height="48.5"/><text class="m i" x="2906" y="622.2">2</text><text class="e i" x="2848" y="622.2">System Dynamics</text></g>
<g id="n-triang"><rect class="n cGN" x="2864" y="662.4" width="84" height="48.5"/><text class="m i" x="2906" y="686.7">2</text><text class="e i" x="2848" y="686.7">Triangulation</text></g>
<g id="n-lca"><rect class="n cOR" x="2864" y="727" width="84" height="48.5"/><text class="m i" x="2906" y="751.3">2</text><text class="e i" x="2848" y="751.3">Life Cycle Assessment</text></g>
<g id="n-io"><rect class="n cBL" x="2864" y="792.2" width="84" height="97"/><text class="m i" x="2906" y="840.7">4</text><text class="e i" x="2848" y="840.7">Input-Output Model</text></g>
<g id="n-stat"><rect class="n cLB" x="2864" y="906" width="84" height="48.5"/><text class="m i" x="2906" y="930.3">2</text><text class="e i" x="2848" y="930.3">Statistical Analysis</text></g>
<g id="n-perf"><rect class="n cMV" x="2864" y="970.4" width="84" height="48.5"/><text class="m i" x="2906" y="994.7">2</text><text class="e i" x="2848" y="994.7">Performance Evaluation Methodology</text></g>
<g id="n-mfca"><rect class="n cR" x="2864" y="1035" width="84" height="48.5"/><text class="m i" x="2906" y="1059.3">2</text><text class="e i" x="2848" y="1059.3">Material Flow Cost Accounting</text></g>
<g id="n-onedim"><rect class="n cCY" x="2864" y="1098.8" width="84" height="24.25"/><text class="m i" x="2906" y="1110.9">1</text><text class="e i" x="2848" y="1110.9">One-dimensional computational model</text></g>
<g id="n-clustering"><rect class="n cPU" x="2864" y="1141" width="84" height="24.25"/><text class="m i" x="2906" y="1153.1">1</text><text class="e i" x="2848" y="1153.1">Improved Clustering and Path Planning Algorithms</text></g>
<g id="n-lsq"><rect class="n cYG" x="2864" y="1181" width="84" height="72.75"/><text class="m i" x="2906" y="1217.4">3</text><text class="e i" x="2848" y="1217.4">Least squares method</text></g>
<g id="n-dd"><rect class="n cYG" x="2864" y="1270.8" width="84" height="97"/><text class="m i" x="2906" y="1319.3">4</text><text class="e i" x="2848" y="1319.3">Double Difference Method</text></g>
<g id="n-onsite"><rect class="n cMV" x="2864" y="1383" width="84" height="97"/><text class="m i" x="2906" y="1431.5">4</text><text class="e i" x="2848" y="1431.5">On-site investigation</text></g>
<g id="n-expert"><rect class="n cOL" x="2864" y="1496.6" width="84" height="97"/><text class="m i" x="2906" y="1545.1">4</text><text class="e i" x="2848" y="1545.1">Expert Interview</text></g>
<g id="n-sna"><rect class="n cGR" x="2864" y="1609.6" width="84" height="48.5"/><text class="m i" x="2906" y="1633.9">2</text><text class="e i" x="2848" y="1633.9">Social Network Analysis</text></g>
<g id="n-desk"><rect class="n cOR" x="2864" y="1674" width="84" height="48.5"/><text class="m i" x="2906" y="1698.3">2</text><text class="e i" x="2848" y="1698.3">Desk research</text></g>
<g id="n-prodfn"><rect class="n cGN" x="2864" y="1739.3" width="84" height="24.25"/><text class="m i" x="2906" y="1751.4">1</text><text class="e i" x="2848" y="1751.4">Production Function Model</text></g>
<g id="n-oit"><rect class="n cR" x="2864" y="1779.3" width="84" height="24.25"/><text class="m i" x="2906" y="1791.4">1</text><text class="e i" x="2848" y="1791.4">O-I-T Model</text></g>
<g id="n-scenario"><rect class="n cGO" x="2864" y="1819.3" width="84" height="24.25"/><text class="m i" x="2906" y="1831.4">1</text><text class="e i" x="2848" y="1831.4">Scenario Construction Technology and Waste Reduction Model</text></g>
<g id="n-characterization"><rect class="n cOL" x="2864" y="1858.5" width="84" height="24.25"/><text class="m i" x="2906" y="1870.6">1</text><text class="e i" x="2848" y="1870.6">Characterization and Calculation of Energy Potential</text></g>
<g id="n-mlr"><rect class="n cCY" x="2864" y="1900" width="84" height="24.25"/><text class="m i" x="2906" y="1912.1">1</text><text class="e i" x="2848" y="1912.1">Multiple Linear Regression Analysis</text></g>
<g id="n-spatialpanel"><rect class="n cMV" x="2864" y="1940.7" width="84" height="24.25"/><text class="m i" x="2906" y="1952.8">1</text><text class="e i" x="2848" y="1952.8">Spatial Panel Data Analysis</text></g>
<g id="n-casestudy"><rect class="n cGN" x="2864" y="1982.8" width="84" height="339.5"/><text class="m i" x="2906" y="2152.6">14</text><text class="e i" x="2848" y="2152.6">Case Study</text></g>
<g id="n-pricedist"><rect class="n cOL" x="2864" y="2339" width="84" height="24.25"/><text class="m i" x="2906" y="2351.1">1</text><text class="e i" x="2848" y="2351.1">Price-Distance Tradeoff</text></g>
<g id="n-fdh"><rect class="n cOR" x="2864" y="2379.3" width="84" height="24.25"/><text class="m" x="2906" y="2391.4">1</text><text class="e" x="2848" y="2391.4">Free Disposal of Hull Data Panel</text></g>
<g id="n-biblio"><rect class="n cPU" x="2864" y="2420.2" width="84" height="48.5"/><text class="m i" x="2906" y="2444.5">2</text><text class="e i" x="2848" y="2444.5">Bibliometrics</text></g>
<g id="n-crossdept"><rect class="n cGO" x="2864" y="2483.6" width="84" height="97"/><text class="m i" x="2906" y="2532.1">4</text><text class="e i" x="2848" y="2532.1">Cross-departmental learning</text></g>
<g id="n-dsr"><rect class="n cMV" x="2864" y="2597.8" width="84" height="97"/><text class="m i" x="2906" y="2646.3">4</text><text class="e i" x="2848" y="2646.3">Design Science Research</text></g>
<g id="n-prototype"><rect class="n cOL" x="2864" y="2711.2" width="84" height="48.5"/><text class="m i" x="2906" y="2735.5">2</text><text class="e i" x="2848" y="2735.5">Prototype Design</text></g>
<g id="n-policynet"><rect class="n cPU" x="2864" y="2776" width="84" height="48.5"/><text class="m i" x="2906" y="2800.3">2</text><text class="e i" x="2848" y="2800.3">Policy Network</text></g>
<g id="n-thematic"><rect class="n cLB" x="2864" y="2841" width="84" height="48.5"/><text class="m i" x="2906" y="2865.3">2</text><text class="e i" x="2848" y="2865.3">Thematic Analysis</text></g>
<g id="n-policyanalysis"><rect class="n cCY" x="2864" y="2906.4" width="84" height="145.5"/><text class="m i" x="2906" y="2979.2">6</text><text class="e i" x="2848" y="2979.2">Policy Analysis</text></g>
<g id="n-keyinfo"><rect class="n cCY" x="2864" y="3067" width="84" height="24.25"/><text class="m i" x="2906" y="3079.1">1</text><text class="e i" x="2848" y="3079.1">Key Information Monitoring</text></g>
<g id="n-comparative"><rect class="n cGO" x="2864" y="3108.7" width="84" height="24.25"/><text class="m i" x="2906" y="3120.8">1</text><text class="e i" x="2848" y="3120.8">Comparative Analysis</text></g>
<g id="n-theoretical"><rect class="n cYG" x="2864" y="3151.6" width="84" height="24.25"/><text class="m i" x="2906" y="3163.7">1</text><text class="e i" x="2848" y="3163.7">Theoretical Methods</text></g>
<g id="n-synthesis"><rect class="n cGR" x="2864" y="3194" width="84" height="24.25"/><text class="m i" x="2906" y="3206.1">1</text><text class="e i" x="2848" y="3206.1">Research Synthesis and Problem-Oriented Approach</text></g>
<g id="n-tech"><rect class="n cLB" x="4282" y="297" width="84" height="485"/><text class="m b" x="4324" y="539.5">20</text><text class="e b" x="4265" y="539.5">Technology and Collaborative Innovation</text></g>
<g id="n-waste"><rect class="n cGR" x="4282" y="799" width="84" height="1091.25"/><text class="m b" x="4324" y="1344.6">45</text><text class="e b" x="4265" y="1344.6">Waste Categories</text></g>
<g id="n-impact"><rect class="n cR" x="4282" y="1916" width="84" height="266.75"/><text class="m b" x="4324" y="2049.4">11</text><text class="e b" x="4265" y="2049.4">Impact Assessment</text></g>
<g id="n-challenge"><rect class="n cOR" x="4282" y="2217" width="84" height="291"/><text class="m b" x="4324" y="2362.5">12</text><text class="e b" x="4265" y="2362.5">Challenge</text></g>
<g id="n-policy"><rect class="n cYG" x="4282" y="2559" width="84" height="266.75"/><text class="m b" x="4324" y="2692.4">11</text><text class="e b" x="4265" y="2692.4">Policy and Regulation</text></g>
</svg>
